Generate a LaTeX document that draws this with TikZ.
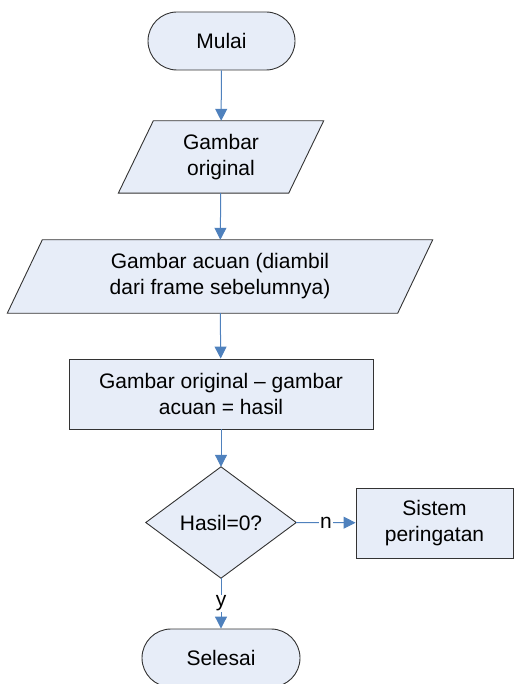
\documentclass[tikz,border=0pt]{standalone}
\usepackage{fontspec}
\setmainfont{Liberation Sans}
\usetikzlibrary{arrows.meta,backgrounds}
\definecolor{boxfill}{RGB}{231,237,248}
\definecolor{arrowblue}{RGB}{79,129,189}
\tikzset{
  txt/.style={font=\fontsize{21}{26}\selectfont, align=center, inner sep=0pt},
  shapeline/.style={draw=black!80, fill=boxfill, line width=0.9pt},
  terminal/.style={txt, shapeline, rounded corners=29pt, minimum height=58pt},
  procbox/.style={txt, shapeline, minimum height=70pt},
  ghost/.style={txt, draw=none},
  flow/.style={draw=arrowblue, line width=1pt, -{Triangle[width=12pt,length=12pt]}},
  lbl/.style={font=\fontsize{21}{26}\selectfont, fill=white, inner sep=1pt}
}
\begin{document}
\begin{tikzpicture}[x=1pt,y=-1pt]
\useasboundingbox (0,0) rectangle (529,684);

\node[terminal, minimum width=147pt] (mulai) at (221.5,41) {Mulai};
\node[ghost, minimum width=170pt, minimum height=72pt] (p1) at (221,157) {Gambar\\original};
\node[ghost, minimum width=390pt, minimum height=73pt] (p2) at (220,276.5) {Gambar acuan (diambil\\dari frame sebelumnya)};
\node[procbox, minimum width=304pt] (proc) at (221,394) {Gambar original -- gambar\\acuan = hasil};
\node[ghost, minimum width=150pt, minimum height=111pt] (dec) at (221,522.5) {Hasil=0?};
\node[procbox, minimum width=157pt] (warn) at (434.5,523) {Sistem\\peringatan};
\node[terminal, minimum width=158pt] (selesai) at (221,658) {Selesai};

\begin{scope}[on background layer]
  \draw[shapeline] ([xshift=17.5pt]p1.north west) -- ([xshift=17.5pt]p1.north east)
     -- ([xshift=-17.5pt]p1.south east) -- ([xshift=-17.5pt]p1.south west) -- cycle;
  \draw[shapeline] ([xshift=17.5pt]p2.north west) -- ([xshift=17.5pt]p2.north east)
     -- ([xshift=-17.5pt]p2.south east) -- ([xshift=-17.5pt]p2.south west) -- cycle;
  \draw[shapeline] (dec.north) -- (dec.east) -- (dec.south) -- (dec.west) -- cycle;
\end{scope}

\draw[flow] (mulai) -- (p1);
\draw[flow] (p1) -- (p2);
\draw[flow] (p2) -- (proc);
\draw[flow] (proc) -- (dec.north);
\draw[flow] (dec.east) -- node[lbl] {n} (warn);
\draw[flow] (dec.south) -- node[lbl, pos=0.5] {y} (selesai);
\end{tikzpicture}
\end{document}
